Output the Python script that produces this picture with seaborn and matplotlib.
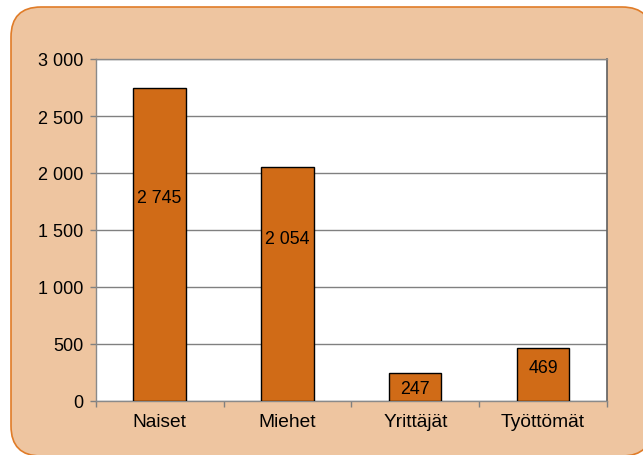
import matplotlib
matplotlib.use("Agg")
import matplotlib.pyplot as plt
import seaborn as sns
import pandas as pd
from matplotlib.patches import FancyBboxPatch

categories = ["Naiset", "Miehet", "Yrittäjät", "Työttömät"]
values = [2745, 2054, 247, 469]
value_labels = ["2 745", "2 054", "247", "469"]
y_ticks = [0, 500, 1000, 1500, 2000, 2500, 3000]
y_tick_labels = ["0", "500", "1 000", "1 500", "2 000", "2 500", "3 000"]

# relative vertical position of value labels inside bars (style)
label_frac = [0.649, 0.696, 0.46, 0.62]

sns.set_theme(style="white")
plt.rcParams["font.family"] = ["Liberation Sans", "DejaVu Sans"]

W, H = 643, 456
fig = plt.figure(figsize=(W / 100, H / 100), dpi=100)
fig.patch.set_facecolor("white")

# rounded background panel (inches)
x0, y0, x1, y1 = 11, 8, 652, 457
panel = FancyBboxPatch((x0 / 100, (H - y1) / 100), (x1 - x0) / 100, (y1 - y0) / 100,
                       boxstyle="round,pad=0,rounding_size=0.30",
                       transform=fig.dpi_scale_trans, facecolor="#EEC5A0",
                       edgecolor="#E07C28", linewidth=1.2, zorder=-10)
fig.add_artist(panel)

ax = fig.add_axes([95.7 / W, 1 - 402 / H, (607 - 95.7) / W, (402 - 60) / H])
ax.set_zorder(5)
ax.set_facecolor("white")

df = pd.DataFrame({"cat": categories, "val": values})
sns.barplot(data=df, x="cat", y="val", ax=ax, color="#D06B17", saturation=1,
            width=0.41, edgecolor="black", linewidth=1.0, zorder=3)

ax.set_ylim(0, 3000)
ax.set_xlim(-0.5, len(categories) - 0.5)
ax.set_yticks(y_ticks)
ax.set_yticklabels(y_tick_labels, fontsize=13, color="black")
ax.set_xticks(range(len(categories)))
ax.set_xticklabels(categories, fontsize=13.8, color="black")
ax.set_xlabel("")
ax.set_ylabel("")

ax.yaxis.grid(True, color="#808080", linewidth=1.0, zorder=0)
ax.set_axisbelow(True)

ax.tick_params(axis="y", left=True, length=4, width=1, color="#808080", pad=5)
ax.tick_params(axis="x", bottom=False, length=0, pad=9)
ax.set_xticks([i - 0.5 for i in range(len(categories) + 1)], minor=True)
ax.tick_params(axis="x", which="minor", bottom=True, length=4, width=1, color="#808080")

for side in ["left", "bottom", "top"]:
    ax.spines[side].set_color("#8a8a8a")
    ax.spines[side].set_linewidth(1.0)
ax.spines["right"].set_color("#606060")
ax.spines["right"].set_linewidth(1.2)

for i, (v, lab, f) in enumerate(zip(values, value_labels, label_frac)):
    ax.text(i, v * f, lab, ha="center", va="center", fontsize=12.8, color="black", zorder=5)

fig.savefig("out.png", dpi=100, facecolor=fig.get_facecolor())
